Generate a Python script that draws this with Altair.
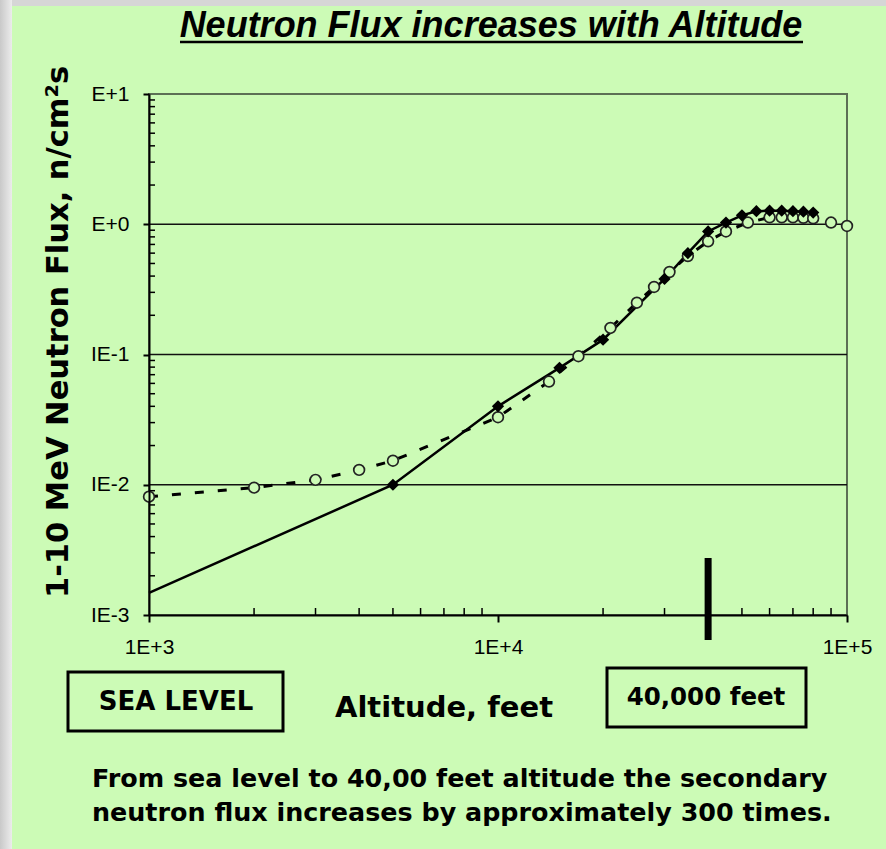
import altair as alt
import pandas as pd

# ---- data -------------------------------------------------------------
# Solid curve (filled diamonds): altitude in feet, 1-10 MeV neutron flux n/cm^2 s
solid_alt = [1000, 5000, 10000, 15000, 20000, 30000, 35000, 40000, 45000,
             50000, 55000, 60000, 65000, 70000, 75000, 80000]
solid_flux = [0.00148, 0.0100, 0.040, 0.079, 0.130, 0.38, 0.60, 0.88, 1.03,
              1.17, 1.26, 1.27, 1.27, 1.26, 1.25, 1.23]

# Dashed curve (open circles)
dash_alt = [1000, 2000, 3000, 4000, 5000, 10000, 14000, 17000, 21000, 25000,
            28000, 31000, 35000, 40000, 45000, 52000, 60000, 65000, 70000,
            75000, 80000, 90000, 100000]
dash_flux = [0.0081, 0.0095, 0.0109, 0.0130, 0.0153, 0.033, 0.062, 0.097,
             0.16, 0.25, 0.33, 0.43, 0.57, 0.74, 0.88, 1.03, 1.13, 1.13,
             1.13, 1.12, 1.11, 1.03, 0.97]

# Axis ticks and labels
x_ticks = [1000, 10000, 100000]
x_tick_labels = ["1E+3", "1E+4", "1E+5"]
x_minor = [2000, 3000, 4000, 5000, 6000, 7000, 8000, 9000,
           20000, 30000, 40000, 50000, 60000, 70000, 80000, 90000]
y_ticks = [0.001, 0.01, 0.1, 1, 10]
y_tick_labels = ["IE-3", "IE-2", "IE-1", "E+0", "E+1"]
y_minor = [0.002, 0.003, 0.004, 0.005, 0.006, 0.007, 0.008, 0.009,
           0.02, 0.03, 0.04, 0.05, 0.06, 0.07, 0.08, 0.09,
           0.2, 0.3, 0.4, 0.5, 0.6, 0.7, 0.8, 0.9,
           2, 3, 4, 5, 6, 7, 8, 9]
grid_flux = [0.01, 0.1, 1]
marker_alt = [40000]

title_text = "Neutron Flux increases with Altitude"
y_title = "1-10 MeV Neutron Flux, n/cm\u00b2s"
x_title = "Altitude, feet"
box_left_text = "SEA LEVEL"
box_right_text = "40,000 feet"
note_lines = ["From sea level to 40,00 feet altitude the secondary",
              "neutron flux increases by approximately 300 times."]

# ---- layout -----------------------------------------------------------
W, H = 698, 521
PAD = {"left": 149, "top": 94, "right": 39, "bottom": 234}
FONT = "Liberation Sans"
WIDE = "DejaVu Sans"
BG = "#ccfbb6"


def label_expr(values, labels):
    expr = "''"
    for v, lab in zip(values, labels):
        expr = f"datum.value == {v} ? '{lab}' : ({expr})"
    return expr


x_scale = alt.Scale(type="log", domain=[1000, 100000], nice=False)
y_scale = alt.Scale(type="log", domain=[0.001, 10], nice=False)

x_axis = alt.Axis(values=x_ticks, labelExpr=label_expr(x_ticks, x_tick_labels),
                  title=None, grid=False, tickSize=7, tickWidth=2,
                  tickColor="black", domainColor="black", domainWidth=2,
                  labelFont=FONT, labelFontSize=21, labelColor="black",
                  labelPadding=14, labelFlush=False, labelOverlap=False, zindex=1)
y_axis = alt.Axis(values=y_ticks, labelExpr=label_expr(y_ticks, y_tick_labels),
                  title=None, grid=False, tickSize=6, tickWidth=2,
                  tickColor="black", domainColor="black", domainWidth=2,
                  labelFont=FONT, labelFontSize=21, labelColor="black",
                  labelPadding=14, labelFlush=False, labelOverlap=False, zindex=1)

X = alt.X("alt:Q", scale=x_scale, axis=x_axis)
Y = alt.Y("flux:Q", scale=y_scale, axis=y_axis)

one = pd.DataFrame({"k": [0]})

# grey slide edges along the top and the left
top_edge = alt.Chart(one).mark_rect(fill="#d6d6d6").encode(
    x=alt.value(-149), x2=alt.value(W + 39), y=alt.value(-94), y2=alt.value(-88))
left_edge = alt.Chart(one).mark_rect(
    fill=alt.Gradient(gradient="linear", x1=0, x2=1, y1=0, y2=0,
                      stops=[alt.GradientStop(color="#c9c9c9", offset=0),
                             alt.GradientStop(color="#ececec", offset=1)])
).encode(x=alt.value(-149), x2=alt.value(-137), y=alt.value(-94), y2=alt.value(H + 234))

grid = alt.Chart(pd.DataFrame({"flux": grid_flux})).mark_rule(
    color="#111111", strokeWidth=1.6).encode(y=Y, x=alt.value(0), x2=alt.value(W))

y_minor_ticks = alt.Chart(pd.DataFrame({"flux": y_minor})).mark_rule(
    color="black", strokeWidth=1.5).encode(y=Y, x=alt.value(0), x2=alt.value(6))
x_minor_ticks = alt.Chart(pd.DataFrame({"alt": x_minor})).mark_rule(
    color="black", strokeWidth=1.5).encode(x=X, y=alt.value(H - 7), y2=alt.value(H))

bar40k = alt.Chart(pd.DataFrame({"alt": marker_alt})).mark_rule(
    color="black", strokeWidth=7).encode(x=X, y=alt.value(464), y2=alt.value(546))

solid_df = pd.DataFrame({"alt": solid_alt, "flux": solid_flux})
dash_df = pd.DataFrame({"alt": dash_alt, "flux": dash_flux})

dash_line = alt.Chart(dash_df).mark_line(
    color="black", strokeWidth=3, strokeDash=[9, 14]).encode(x=X, y=Y)
solid_line = alt.Chart(solid_df).mark_line(
    color="black", strokeWidth=2.5).encode(x=X, y=Y)
circles = alt.Chart(dash_df).mark_point(
    shape="circle", size=115, filled=False, fill=BG, fillOpacity=1,
    stroke="#222222", strokeWidth=1.7, opacity=1).encode(x=X, y=Y)
diamonds = alt.Chart(solid_df).transform_filter("datum.alt > 1000").mark_point(
    shape="diamond", size=150, filled=True, color="black", opacity=1).encode(x=X, y=Y)


def text_layer(txt, x, y, size, font=WIDE, **kw):
    return alt.Chart(pd.DataFrame({"t": [txt]})).mark_text(
        font=font, fontSize=size, color="black", **kw).encode(
        x=alt.value(x), y=alt.value(y), text="t:N")


title = text_layer(title_text, 342, -57, 36, font=FONT, fontWeight="bold",
                   fontStyle="italic", baseline="alphabetic", align="center")
underline = alt.Chart(one).mark_rule(color="black", strokeWidth=2.5).encode(
    x=alt.value(31), x2=alt.value(654), y=alt.value(-52))
ytitle = text_layer(y_title, -90, 238, 30.5, fontWeight="bold", angle=270,
                    align="center", baseline="middle")
xtitle = text_layer(x_title, 295, 614, 29, fontWeight="bold",
                    align="center", baseline="middle")

box_left = alt.Chart(one).mark_rect(filled=False, stroke="black", strokeWidth=3).encode(
    x=alt.value(-81), x2=alt.value(134), y=alt.value(578), y2=alt.value(637))
box_right = alt.Chart(one).mark_rect(filled=False, stroke="black", strokeWidth=3).encode(
    x=alt.value(458), x2=alt.value(657), y=alt.value(574), y2=alt.value(633))
box_left_t = text_layer(box_left_text, 27, 608, 26, fontWeight="bold",
                        align="center", baseline="middle")
box_right_t = text_layer(box_right_text, 557, 604, 24.5, fontWeight="bold",
                         align="center", baseline="middle")
note1 = text_layer(note_lines[0], -57, 685, 25.4, fontWeight="bold",
                   align="left", baseline="middle")
note2 = text_layer(note_lines[1], -57, 719, 25.4, fontWeight="bold",
                   align="left", baseline="middle")

chart = alt.layer(
    top_edge, left_edge, grid, y_minor_ticks, x_minor_ticks, bar40k,
    dash_line, solid_line, circles, diamonds,
    title, underline, ytitle, xtitle, box_left, box_right,
    box_left_t, box_right_t, note1, note2,
).properties(
    width=W, height=H,
    autosize=alt.AutoSizeParams(type="none"),
    padding=PAD,
    background=BG,
).configure_view(stroke="#5c6f55", strokeWidth=2)

chart.save("out.html", embed_options={"renderer": "svg", "actions": False})
